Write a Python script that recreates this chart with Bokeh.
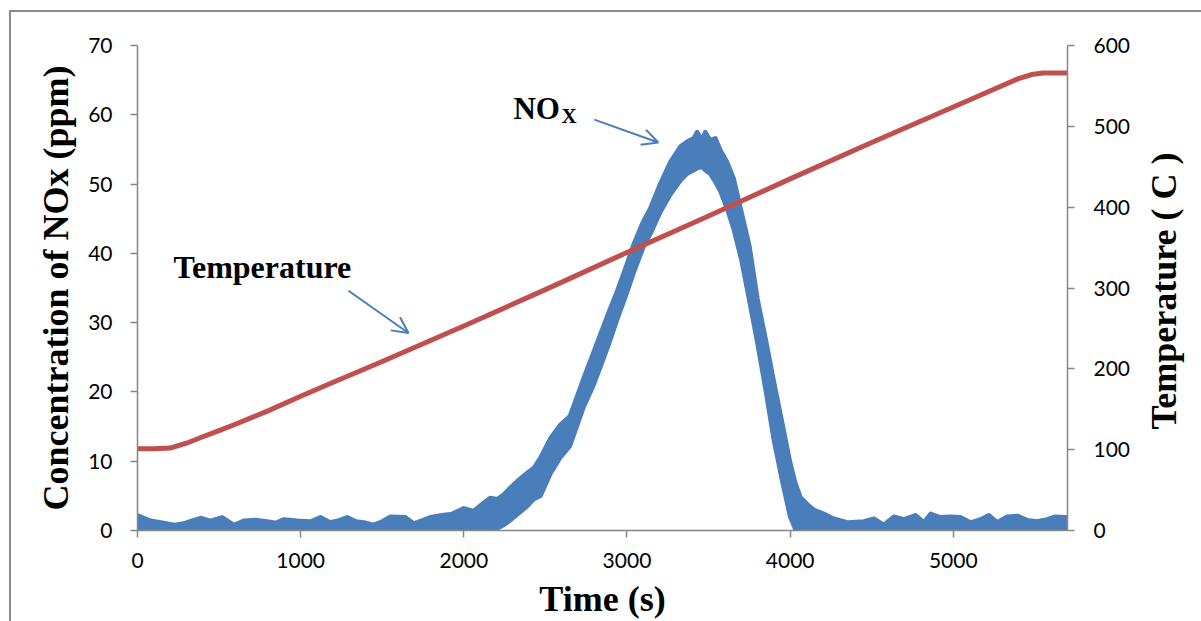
import math
from bokeh.plotting import figure
from bokeh.models import (Range1d, LinearAxis, FixedTicker, ColumnDataSource,
                          Label, Arrow, OpenHead, Spacer, Div)
from bokeh.layouts import row, column
from bokeh.embed import file_html
from bokeh.resources import INLINE

# ---------------- data ----------------
x_ticks = [0, 1000, 2000, 3000, 4000, 5000]
left_ticks = [0, 10, 20, 30, 40, 50, 60, 70]
right_ticks = [0, 100, 200, 300, 400, 500, 600]

# Temperature (C) vs time (s)
temp_time = [0, 100, 200, 300, 400, 500, 600, 800, 1000, 1200, 1500, 2000, 2500,
             3000, 3500, 4000, 4500, 5000, 5400, 5480, 5550, 5700]
temp_val = [101, 101, 102, 108, 116, 123.5, 131.5, 148, 166, 183.5, 209, 253, 298,
            344, 389, 435, 480, 524, 559, 564, 566, 566]

# NOx concentration (ppm): lower / upper edge of the noisy trace
nox_time = [0, 40, 80, 161, 223, 284, 330, 386, 447, 519,
            590, 652, 723, 794, 850, 897, 978, 1060, 1121, 1182,
            1240, 1285, 1340, 1387, 1448, 1500, 1550, 1642, 1693, 1750,
            1795, 1867, 1928, 2000, 2061, 2122, 2163,
            2204, 2245, 2286, 2327, 2388, 2428, 2470, 2531, 2590, 2650,
            2735, 2790, 2837, 2890, 2939, 2990, 3041, 3100, 3143, 3205,
            3266, 3327, 3368, 3409, 3430, 3460, 3480, 3510, 3542, 3572,
            3613, 3654, 3700, 3750, 3800, 3850, 3900, 3950, 4000, 4030,
            4063, 4104, 4145, 4206, 4268, 4350, 4452, 4513, 4574, 4636,
            4697, 4768, 4820, 4861, 4922, 4983, 5044, 5105, 5167, 5218,
            5269, 5330, 5392, 5453, 5514, 5575, 5626, 5688, 5700]
nox_low = [0, 0, 0, 0, 0, 0, 0, 0, 0, 0,
           0, 0, 0, 0, 0, 0, 0, 0, 0, 0,
           0, 0, 0, 0, 0, 0, 0, 0, 0, 0,
           0, 0, 0, 0, 0, 0, 0,
           0.3, 0.8, 1.5, 2.3, 3.5, 4.5, 5.0, 8.2, 10.5, 12.2,
           17.9, 20.7, 23.6, 27.0, 30.4, 33.7, 37.2, 40.9, 42.8, 46.0,
           48.5, 50.5, 51.5, 52.0, 52.3, 52.5, 52.0, 51.5, 50.3, 49.0,
           46.5, 43.5, 39.2, 33.2, 27.0, 20.3, 13.1, 7.3, 2.0, 0.3,
           0, 0, 0, 0, 0, 0, 0, 0, 0, 0,
           0, 0, 0, 0, 0, 0, 0, 0, 0, 0,
           0, 0, 0, 0, 0, 0, 0, 0, 0]
nox_high = [2.2, 1.8, 1.4, 1.1, 0.8, 1.0, 1.4, 1.8, 1.4, 1.9,
            0.8, 1.4, 1.5, 1.3, 1.1, 1.6, 1.4, 1.3, 1.9, 1.15,
            1.5, 1.9, 1.3, 1.15, 0.8, 1.3, 2.0, 1.9, 1.0, 1.5,
            1.9, 2.2, 2.4, 3.2, 2.8, 4.0, 4.7,
            4.5, 5.2, 6.2, 7.1, 8.3, 9.0, 10.5, 13.3, 15.2, 16.5,
            22.0, 25.4, 28.3, 31.6, 34.5, 37.8, 41.3, 44.6, 46.5, 50.1,
            53.2, 55.4, 56.1, 56.6, 57.5, 56.3, 57.5, 56.3, 56.6, 54.9,
            53.2, 50.8, 46.1, 41.1, 33.4, 27.6, 21.5, 15.7, 9.8, 7.0,
            4.8, 3.8, 3.0, 2.4, 1.7, 1.15, 1.3, 1.7, 0.8, 2.0,
            1.6, 2.2, 1.15, 2.4, 1.9, 2.0, 1.9, 1.15, 1.6, 2.2,
            1.15, 2.0, 2.1, 1.5, 1.3, 1.6, 2.0, 1.9, 1.9]
assert len(nox_time) == len(nox_low) == len(nox_high)

# ---------------- styling ----------------
BLUE = "#4a7ebb"
RED = "#c0504d"
AXIS = "#868686"
SERIF = "Liberation Serif"
SANS = "Lato"

p = figure(width=1134, height=609, x_range=Range1d(0, 5700), y_range=Range1d(0, 70),
           output_backend="svg", toolbar_location=None,
           min_border_left=126, min_border_right=78, min_border_top=33,
           min_border_bottom=90)
p.extra_y_ranges = {"temp": Range1d(0, 600)}
p.grid.visible = False
p.outline_line_color = None
p.background_fill_color = "white"
p.border_fill_color = "white"

src = ColumnDataSource(dict(t=nox_time, lo=nox_low, hi=nox_high))
p.varea(x="t", y1="lo", y2="hi", source=src, fill_color=BLUE)
p.line(x="t", y="hi", source=src, line_color=BLUE, line_width=4.5, line_join="round")
p.line(x="t", y="lo", source=src, line_color=BLUE, line_width=4.5, line_join="round")

p.line(temp_time, temp_val, y_range_name="temp", line_color=RED, line_width=5,
       line_join="round")

def style_axis(ax, ticks, standoff):
    ax.ticker = FixedTicker(ticks=ticks)
    ax.axis_line_color = AXIS
    ax.axis_line_width = 1.5
    ax.major_tick_line_color = AXIS
    ax.major_tick_line_width = 1.5
    ax.major_tick_in = 0
    ax.major_tick_out = 7
    ax.minor_tick_line_color = None
    ax.major_label_text_font = SANS
    ax.major_label_text_font_size = "21px"
    ax.major_label_text_color = "#000000"
    ax.major_label_standoff = standoff
    ax.axis_label_text_font = SERIF
    ax.axis_label_text_font_style = "bold"
    ax.axis_label_text_font_size = "36px"
    ax.axis_label_text_color = "#000000"

style_axis(p.xaxis[0], x_ticks, 15)
p.xaxis[0].axis_label = "Time (s)"
p.xaxis[0].axis_label_standoff = 8

style_axis(p.yaxis[0], left_ticks, 18)
p.yaxis[0].axis_label = "Concentration of NOx (ppm)"
p.yaxis[0].axis_label_standoff = 9

rax = LinearAxis(y_range_name="temp")
style_axis(rax, right_ticks, 19)
p.add_layout(rax, "right")

# annotations
p.add_layout(Label(x=221, y=38.1, text="Temperature", text_font=SERIF,
                   text_font_style="bold", text_font_size="32px",
                   text_color="#000000", text_baseline="alphabetic"))
p.add_layout(Label(x=2304, y=60.9, text="NO", text_font=SERIF,
                   text_font_style="bold", text_font_size="31px",
                   text_color="#000000", text_baseline="alphabetic"))
p.add_layout(Label(x=2598, y=59.8, text="X", text_font=SERIF,
                   text_font_style="bold", text_font_size="21px",
                   text_color="#000000", text_baseline="alphabetic"))
p.add_layout(Arrow(x_start=1293, y_start=34.6, x_end=1661, y_end=28.5,
                   line_color=BLUE, line_width=2,
                   end=OpenHead(size=16, line_color=BLUE, line_width=2)))
p.add_layout(Arrow(x_start=2800, y_start=59.3, x_end=3192, y_end=56.0,
                   line_color=BLUE, line_width=2,
                   end=OpenHead(size=16, line_color=BLUE, line_width=2)))

# right-hand axis title, reading bottom-to-top as in the reference
right_title = Div(width=56, height=609, text=(
    '<div style="position:absolute; left:14px; top:274px; '
    'transform:translate(-50%,-50%) rotate(-90deg); white-space:nowrap; '
    "font-family:'Liberation Serif'; font-weight:bold; font-size:36px; "
    'line-height:1; color:#000;">Temperature ( C )</div>'),
    styles={"background-color": "white", "overflow": "visible"})

inner = row(p, right_title)
inner.styles = {"border-left": "2px solid #8c8c8c", "border-top": "2px solid #8c8c8c",
                "background-color": "white"}

layout = row(Spacer(width=9), column(Spacer(height=10), inner))

with open("out.html", "w") as f:
    f.write(file_html(layout, INLINE))
